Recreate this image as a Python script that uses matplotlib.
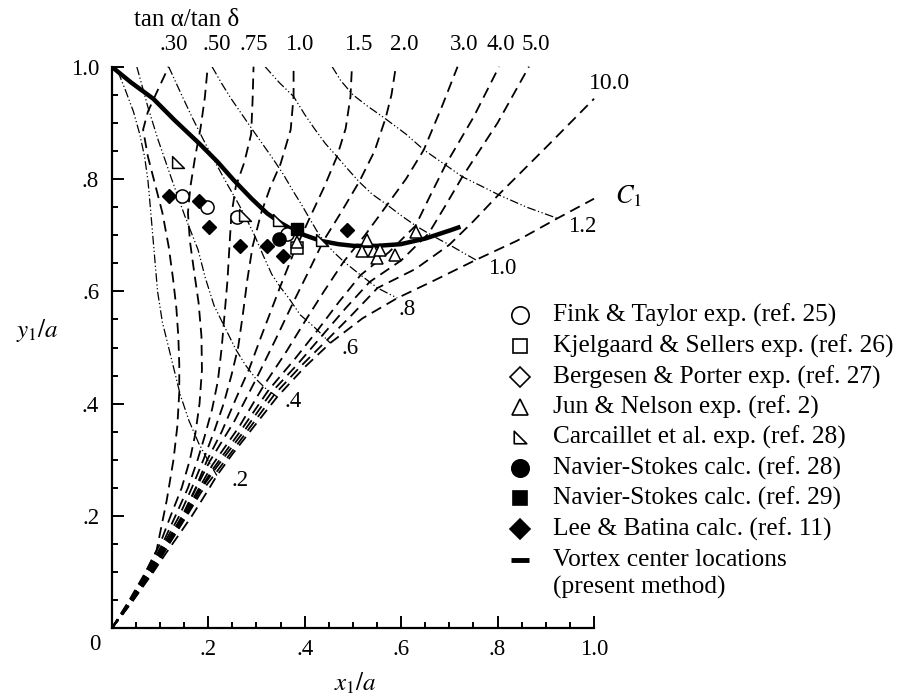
import numpy as np
import matplotlib.pyplot as plt
from matplotlib.lines import Line2D
from matplotlib.path import Path
from matplotlib.ticker import MultipleLocator

# ==================== 配置 ====================
plt.rcParams['font.family'] = ['Liberation Serif', 'DejaVu Serif']
plt.rcParams['mathtext.fontset'] = 'stix'

# ==================== 数据 ====================
# 等 tan α/tan δ 曲线（虚线），由原点向上
K_LABELS = ['.30', '.50', '.75', '1.0', '1.5', '2.0', '3.0', '4.0', '5.0']

K_030 = [(0, 0), (0.024, 0.027), (0.059, 0.080), (0.093, 0.139), (0.114, 0.228),
         (0.128, 0.300), (0.136, 0.360), (0.140, 0.420), (0.140, 0.470), (0.138, 0.520),
         (0.134, 0.570), (0.127, 0.623), (0.118, 0.680), (0.105, 0.740), (0.090, 0.790),
         (0.075, 0.840), (0.065, 0.888), (0.075, 0.920), (0.092, 0.952), (0.118, 1.000)]
K_050 = [(0, 0), (0.035, 0.048), (0.070, 0.100), (0.100, 0.150), (0.122, 0.200),
         (0.145, 0.250), (0.162, 0.300), (0.173, 0.345), (0.182, 0.400), (0.187, 0.460),
         (0.186, 0.520), (0.180, 0.580), (0.170, 0.640), (0.162, 0.690), (0.158, 0.740),
         (0.163, 0.786), (0.173, 0.840), (0.184, 0.890), (0.193, 0.945), (0.199, 1.000)]
K_075 = [(0, 0), (0.036, 0.048), (0.073, 0.100), (0.105, 0.150), (0.132, 0.200),
         (0.158, 0.250), (0.178, 0.300), (0.192, 0.340), (0.208, 0.390), (0.220, 0.440),
         (0.228, 0.500), (0.234, 0.560), (0.240, 0.620), (0.244, 0.680), (0.248, 0.735),
         (0.257, 0.786), (0.275, 0.830), (0.289, 0.880), (0.292, 0.940), (0.294, 1.000)]
K_100 = [(0, 0), (0.037, 0.048), (0.075, 0.100), (0.108, 0.150), (0.140, 0.200),
         (0.166, 0.250), (0.190, 0.300), (0.212, 0.350), (0.232, 0.400), (0.248, 0.450),
         (0.262, 0.500), (0.272, 0.560), (0.281, 0.620), (0.292, 0.680), (0.310, 0.740),
         (0.329, 0.786), (0.350, 0.827), (0.371, 0.888), (0.377, 0.947), (0.377, 1.000)]
K_150 = [(0, 0), (0.038, 0.048), (0.077, 0.100), (0.111, 0.150), (0.146, 0.200),
         (0.174, 0.250), (0.198, 0.300), (0.228, 0.350), (0.258, 0.410), (0.285, 0.462),
         (0.310, 0.520), (0.330, 0.565), (0.350, 0.610), (0.378, 0.670), (0.410, 0.730),
         (0.440, 0.785), (0.467, 0.840), (0.485, 0.890), (0.495, 0.947), (0.498, 1.000)]
K_200 = [(0, 0), (0.039, 0.048), (0.079, 0.100), (0.113, 0.150), (0.150, 0.205),
         (0.175, 0.250), (0.203, 0.297), (0.255, 0.370), (0.300, 0.445), (0.340, 0.515),
         (0.375, 0.578), (0.405, 0.630), (0.439, 0.690), (0.475, 0.740), (0.513, 0.795),
         (0.545, 0.850), (0.568, 0.909), (0.580, 0.950), (0.589, 1.000)]
K_300 = [(0, 0), (0.040, 0.048), (0.081, 0.100), (0.115, 0.150), (0.152, 0.205),
         (0.178, 0.245), (0.208, 0.290), (0.265, 0.360), (0.315, 0.432), (0.360, 0.490),
         (0.403, 0.550), (0.440, 0.600), (0.481, 0.653), (0.525, 0.700), (0.571, 0.754),
         (0.610, 0.800), (0.647, 0.852), (0.685, 0.930), (0.717, 1.000)]
K_400 = [(0, 0), (0.041, 0.048), (0.082, 0.100), (0.117, 0.150), (0.155, 0.205),
         (0.181, 0.245), (0.211, 0.285), (0.270, 0.355), (0.325, 0.424), (0.380, 0.480),
         (0.427, 0.531), (0.470, 0.580), (0.516, 0.629), (0.575, 0.670), (0.630, 0.717),
         (0.660, 0.770), (0.692, 0.825), (0.750, 0.910), (0.803, 1.000)]
K_500 = [(0, 0), (0.042, 0.048), (0.083, 0.100), (0.118, 0.150), (0.157, 0.205),
         (0.183, 0.245), (0.213, 0.282), (0.275, 0.352), (0.331, 0.420), (0.385, 0.470),
         (0.437, 0.522), (0.485, 0.570), (0.535, 0.617), (0.600, 0.655), (0.657, 0.703),
         (0.690, 0.750), (0.727, 0.804), (0.800, 0.900), (0.865, 1.000)]
K_1000 = [(0, 0), (0.043, 0.048), (0.084, 0.100), (0.119, 0.150), (0.159, 0.205),
          (0.185, 0.242), (0.216, 0.277), (0.280, 0.350), (0.337, 0.416), (0.390, 0.465),
          (0.446, 0.513), (0.500, 0.560), (0.551, 0.606), (0.630, 0.640), (0.700, 0.683),
          (0.750, 0.725), (0.802, 0.772), (0.900, 0.856), (1.000, 0.943)]
ENVELOPE = [(0, 0), (0.024, 0.027), (0.052, 0.059), (0.086, 0.100), (0.115, 0.137),
            (0.142, 0.170), (0.166, 0.200), (0.183, 0.223), (0.204, 0.252), (0.218, 0.272),
            (0.250, 0.310), (0.300, 0.365), (0.343, 0.412), (0.400, 0.465), (0.453, 0.508),
            (0.520, 0.552), (0.592, 0.588), (0.670, 0.620), (0.755, 0.656), (0.840, 0.690),
            (0.924, 0.730), (1.000, 0.765)]

# 等 C1 曲线（点划线）
C1_LABELS = ['.2', '.4', '.6', '.8', '1.0', '1.2']

C1_02 = [(0.013, 0.991), (0.028, 0.959), (0.045, 0.920), (0.058, 0.880), (0.068, 0.840),
         (0.075, 0.798), (0.080, 0.750), (0.085, 0.700), (0.090, 0.650), (0.095, 0.600),
         (0.105, 0.545), (0.118, 0.500), (0.142, 0.416), (0.160, 0.370), (0.180, 0.330),
         (0.200, 0.298), (0.218, 0.272)]
C1_04 = [(0.052, 1.000), (0.075, 0.928), (0.096, 0.870), (0.125, 0.798), (0.152, 0.733),
         (0.179, 0.674), (0.194, 0.624), (0.212, 0.575), (0.235, 0.535), (0.257, 0.497),
         (0.277, 0.469), (0.300, 0.443), (0.318, 0.428), (0.343, 0.412)]
C1_06 = [(0.118, 1.000), (0.142, 0.955), (0.166, 0.911), (0.190, 0.870), (0.215, 0.829),
         (0.240, 0.790), (0.262, 0.757), (0.280, 0.728), (0.297, 0.698), (0.315, 0.662),
         (0.332, 0.630), (0.350, 0.607), (0.367, 0.588), (0.391, 0.558), (0.419, 0.537),
         (0.437, 0.522), (0.453, 0.508)]
C1_08 = [(0.208, 1.000), (0.228, 0.970), (0.246, 0.945), (0.270, 0.915), (0.290, 0.890),
         (0.313, 0.862), (0.335, 0.835), (0.356, 0.808), (0.375, 0.780), (0.393, 0.755),
         (0.410, 0.730), (0.425, 0.708), (0.439, 0.690), (0.460, 0.670), (0.481, 0.653),
         (0.516, 0.629), (0.551, 0.606), (0.592, 0.588)]
C1_10 = [(0.318, 1.000), (0.347, 0.972), (0.377, 0.947), (0.400, 0.915), (0.420, 0.890),
         (0.443, 0.863), (0.467, 0.840), (0.490, 0.817), (0.513, 0.795), (0.540, 0.773),
         (0.571, 0.754), (0.600, 0.735), (0.630, 0.717), (0.657, 0.703), (0.682, 0.691),
         (0.700, 0.683), (0.728, 0.669), (0.755, 0.656)]
C1_12 = [(0.457, 1.000), (0.475, 0.975), (0.500, 0.950), (0.530, 0.930), (0.568, 0.907),
         (0.610, 0.880), (0.647, 0.852), (0.692, 0.825), (0.727, 0.804), (0.765, 0.788),
         (0.802, 0.772), (0.860, 0.750), (0.924, 0.730)]

# 本文方法：涡心位置（粗实线）
VORTEX = [(0.000, 1.000), (0.040, 0.972), (0.086, 0.943), (0.130, 0.905), (0.183, 0.862),
          (0.220, 0.830), (0.253, 0.798), (0.290, 0.765), (0.322, 0.739), (0.350, 0.722),
          (0.370, 0.712), (0.400, 0.700), (0.433, 0.690), (0.470, 0.684), (0.502, 0.681),
          (0.550, 0.681), (0.599, 0.684), (0.650, 0.694), (0.703, 0.709), (0.723, 0.715)]

# 实验与计算结果
fink_x = [0.145, 0.197, 0.260, 0.363]
fink_y = [0.769, 0.750, 0.732, 0.703]
kjel_x = [0.384]
kjel_y = [0.677]
berg_x = []
berg_y = []
jun_x = [0.384, 0.530, 0.519, 0.543, 0.550, 0.557, 0.588, 0.630]
jun_y = [0.688, 0.692, 0.671, 0.671, 0.659, 0.674, 0.665, 0.706]
carc_x = [0.138, 0.277, 0.346, 0.436]
carc_y = [0.831, 0.736, 0.727, 0.691]
ns28_x = [0.346]
ns28_y = [0.694]
ns29_x = [0.384]
ns29_y = [0.711]
lee_x = [0.118, 0.180, 0.201, 0.266, 0.322, 0.356, 0.488]
lee_y = [0.769, 0.760, 0.715, 0.681, 0.681, 0.663, 0.709]

# 直角三角形标记（Carcaillet）
RIGHT_TRI = Path([(-1, -1), (1, -1), (-1, 1), (-1, -1)],
                 [Path.MOVETO, Path.LINETO, Path.LINETO, Path.CLOSEPOLY])


def xy(curve):
    arr = np.array(curve)
    return arr[:, 0], arr[:, 1]


def draw_grid(ax):
    """画 tan α/tan δ 虚线族和 C1 点划线族"""
    for curve in [K_030, K_050, K_075, K_100, K_150, K_200, K_300, K_400, K_500,
                  K_1000, ENVELOPE]:
        x, y = xy(curve)
        ax.plot(x, y, color='black', lw=1.3, dashes=(6, 3.5), clip_on=False)
    for curve in [C1_02, C1_04, C1_06, C1_08, C1_10, C1_12]:
        x, y = xy(curve)
        ax.plot(x, y, color='black', lw=0.9, dashes=(7, 2, 1, 2, 1, 2))

    # 顶部标签
    top_x = [0.128, 0.218, 0.294, 0.388, 0.512, 0.606, 0.730, 0.806, 0.879]
    for lab, tx in zip(K_LABELS, top_x):
        ax.text(tx, 1.039, lab, fontsize=16.5, ha='center', va='center')
    ax.text(1.031, 0.970, '10.0', fontsize=17, ha='center', va='center')
    ax.text(0.156, 1.084, 'tan α/tan δ', fontsize=18, ha='center', va='center')

    # C1 标签
    c1_pos = [(0.266, 0.264), (0.377, 0.403), (0.495, 0.499), (0.613, 0.567),
              (0.810, 0.641), (0.976, 0.715)]
    for lab, (tx, ty) in zip(C1_LABELS, c1_pos):
        ax.text(tx, ty, lab, fontsize=16.5, ha='center', va='center')
    ax.text(1.072, 0.770, r'$C_1$', fontsize=19, ha='center', va='center')


def draw_points(ax):
    """画涡心线和实验/计算点"""
    x, y = xy(VORTEX)
    ax.plot(x, y, color='black', lw=3.2, solid_capstyle='butt', zorder=4)

    kw = dict(ls='none', color='black', zorder=5, clip_on=False)
    ax.plot(fink_x, fink_y, marker='o', ms=9.5, mfc='white', mew=1.1, **kw)
    ax.plot(kjel_x, kjel_y, marker='s', ms=8, mfc='white', mew=1.1, **kw)
    ax.plot(berg_x, berg_y, marker='D', ms=8, mfc='white', mew=1.1, **kw)
    ax.plot(jun_x, jun_y, marker='^', ms=9, mfc='white', mew=1.1, **kw)
    ax.plot(carc_x, carc_y, marker=RIGHT_TRI, ms=8.5, mfc='white', mew=1.1, **kw)
    ax.plot(ns28_x, ns28_y, marker='o', ms=9.5, **kw)
    ax.plot(ns29_x, ns29_y, marker='s', ms=8, **kw)
    ax.plot(lee_x, lee_y, marker='D', ms=7.5, **kw)


def draw_legend(fig):
    """手工图例（图坐标）"""
    W, H = 899.0, 700.0
    mx, tx = 520 / W, 553 / W
    rows = [
        ('o', 12.5, 'white', 'Fink & Taylor exp. (ref. 25)', 315),
        ('s', 10, 'white', 'Kjelgaard & Sellers exp. (ref. 26)', 346),
        ('D', 10.5, 'white', 'Bergesen & Porter exp. (ref. 27)', 377),
        ('^', 11, 'white', 'Jun & Nelson exp. (ref. 2)', 407),
        (RIGHT_TRI, 9, 'white', 'Carcaillet et al. exp. (ref. 28)', 437),
        ('o', 12.5, 'black', 'Navier-Stokes calc. (ref. 28)', 468),
        ('s', 10, 'black', 'Navier-Stokes calc. (ref. 29)', 498),
        ('D', 10.5, 'black', 'Lee & Batina calc. (ref. 11)', 529),
    ]
    for marker, ms, mfc, label, py in rows:
        fig.add_artist(Line2D([mx], [1 - py / H], marker=marker, ms=ms, mfc=mfc,
                              mec='black', mew=1.2, ls='none',
                              transform=fig.transFigure))
        fig.text(tx, 1 - py / H, label, fontsize=18.3, va='center', ha='left')
    fig.add_artist(Line2D([mx - 9 / W, mx + 9 / W], [1 - 560 / H] * 2, color='black',
                          lw=3.5, solid_capstyle='butt', transform=fig.transFigure))
    fig.text(tx, 1 - 560 / H, 'Vortex center locations', fontsize=18.3, va='center')
    fig.text(tx, 1 - 587 / H, '(present method)', fontsize=18.3, va='center')


def style_axes(fig, ax):
    ax.set_xlim(0, 1)
    ax.set_ylim(0, 1)
    for side in ['top', 'right']:
        ax.spines[side].set_visible(False)
    for side in ['left', 'bottom']:
        ax.spines[side].set_linewidth(1.6)
    ax.set_xticks([0, 0.2, 0.4, 0.6, 0.8, 1.0])
    ax.set_xticklabels(['', '.2', '.4', '.6', '.8', '1.0'])
    ax.set_yticks([0, 0.2, 0.4, 0.6, 0.8, 1.0])
    ax.set_yticklabels(['', '.2', '.4', '.6', '.8', '1.0'])
    ax.xaxis.set_minor_locator(MultipleLocator(0.05))
    ax.yaxis.set_minor_locator(MultipleLocator(0.05))
    ax.tick_params(which='both', direction='in', width=1.4, labelsize=16.5)
    ax.tick_params(which='major', length=8.5)
    ax.tick_params(which='minor', length=4.5)
    ax.tick_params(axis='x', pad=8)
    ax.tick_params(axis='y', pad=9)

    W, H = 899.0, 700.0
    fig.text(95 / W, 1 - 645 / H, '0', fontsize=16.5, ha='center', va='center')
    fig.text(37 / W, 1 - 330 / H, r'$y_1/a$', fontsize=18, ha='center', va='center')
    fig.text(355 / W, 1 - 683 / H, r'$x_1/a$', fontsize=18, ha='center', va='center')


def main():
    fig = plt.figure(figsize=(8.99, 7.0), dpi=100)
    ax = fig.add_axes([0.1243, 0.1024, 0.5365, 0.8023])
    style_axes(fig, ax)
    draw_grid(ax)
    draw_points(ax)
    draw_legend(fig)
    fig.savefig('out.png', dpi=100)


if __name__ == '__main__':
    main()
